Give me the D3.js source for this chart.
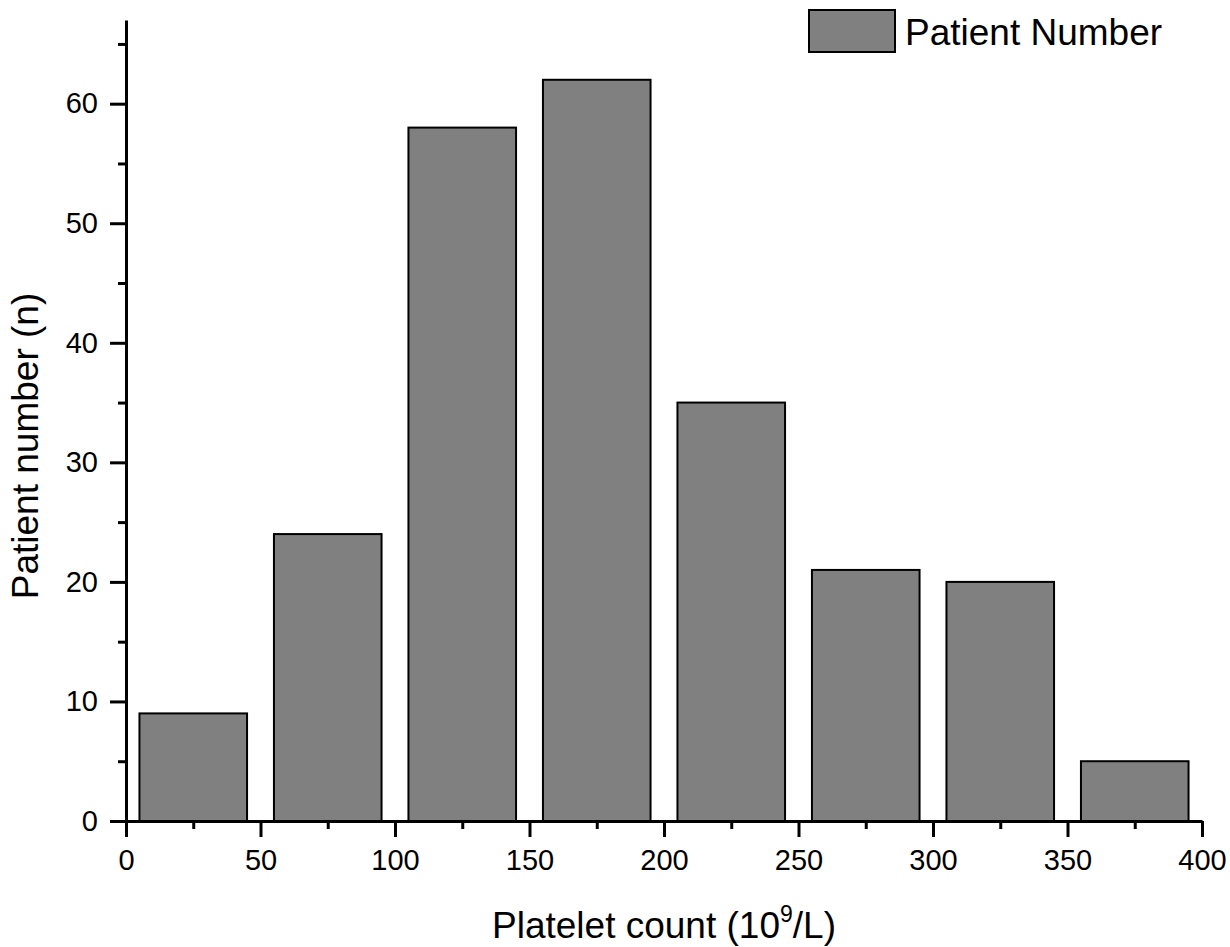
<!DOCTYPE html>
<html>
<head>
<meta charset="utf-8">
<script src="https://cdn.jsdelivr.net/npm/d3@7"></script>
<style>
  body { margin: 0; background: #fff; }
  svg { display: block; font-family: "Liberation Sans", Arial, sans-serif; }
</style>
</head>
<body>
<div id="chart"></div>
<script>
// bins of platelet count (10^9/L) and patient counts per bin
const binStarts = [0, 50, 100, 150, 200, 250, 300, 350];
const binWidth = 50;
const patientCounts = [9, 24, 58, 62, 35, 21, 20, 5];
const xTicks = [0, 50, 100, 150, 200, 250, 300, 350, 400];
const yTicks = [0, 10, 20, 30, 40, 50, 60];

const width = 1230;
const height = 947;
const margin = { left: 126, right: 28, top: 20, bottom: 126 };

const svg = d3.select("#chart").append("svg")
  .attr("width", width)
  .attr("height", height);

const x = d3.scaleLinear().domain([0, 400]).range([margin.left, width - margin.right]);
const y = d3.scaleLinear().domain([0, 67]).range([height - margin.bottom, margin.top]);

// bars
svg.append("g").selectAll("rect")
  .data(binStarts.map((s, i) => ({ s, v: patientCounts[i] })))
  .join("rect")
  .attr("x", d => x(d.s + 5))
  .attr("width", d => x(d.s + binWidth - 5) - x(d.s + 5))
  .attr("y", d => y(d.v))
  .attr("height", d => y(0) - y(d.v))
  .attr("fill", "#808080")
  .attr("stroke", "#000")
  .attr("stroke-width", 2);

// x axis
svg.append("g")
  .attr("transform", `translate(0,${y(0)})`)
  .call(d3.axisBottom(x).tickValues(xTicks).tickSize(16).tickPadding(12).tickSizeOuter(0));
svg.append("g")
  .attr("transform", `translate(0,${y(0)})`)
  .call(d3.axisBottom(x).tickValues(d3.range(25, 400, 50)).tickSize(8).tickFormat("").tickSizeOuter(0))
  .call(g => g.select(".domain").remove());

// y axis
svg.append("g")
  .attr("transform", `translate(${x(0)},0)`)
  .call(d3.axisLeft(y).tickValues(yTicks).tickSize(16).tickPadding(12).tickSizeOuter(0));
svg.append("g")
  .attr("transform", `translate(${x(0)},0)`)
  .call(d3.axisLeft(y).tickValues(d3.range(5, 67, 10)).tickSize(8).tickFormat("").tickSizeOuter(0))
  .call(g => g.select(".domain").remove());

svg.selectAll(".domain").attr("stroke-width", 3).attr("stroke", "#000");
svg.selectAll(".tick line").attr("stroke-width", 3).attr("stroke", "#000");
svg.selectAll(".tick text")
  .attr("font-size", 29)
  .attr("font-family", "Liberation Sans, Arial, sans-serif")
  .attr("fill", "#000");

// axis titles
const xt = svg.append("text")
  .attr("x", x(200))
  .attr("y", 938)
  .attr("text-anchor", "middle")
  .attr("font-size", 37)
  .text("Platelet count (10");
xt.append("tspan").attr("font-size", 23).attr("dy", -16).text("9");
xt.append("tspan").attr("dy", 16).text("/L)");

svg.append("text")
  .attr("transform", "translate(38,446) rotate(-90)")
  .attr("text-anchor", "middle")
  .attr("font-size", 37)
  .text("Patient number (n)");

// legend
const legend = svg.append("g").attr("transform", "translate(809,10)");
legend.append("rect")
  .attr("width", 86).attr("height", 42)
  .attr("fill", "#808080").attr("stroke", "#000").attr("stroke-width", 2);
legend.append("text")
  .attr("x", 96).attr("y", 35)
  .attr("font-size", 37)
  .text("Patient Number");
</script>
</body>
</html>
